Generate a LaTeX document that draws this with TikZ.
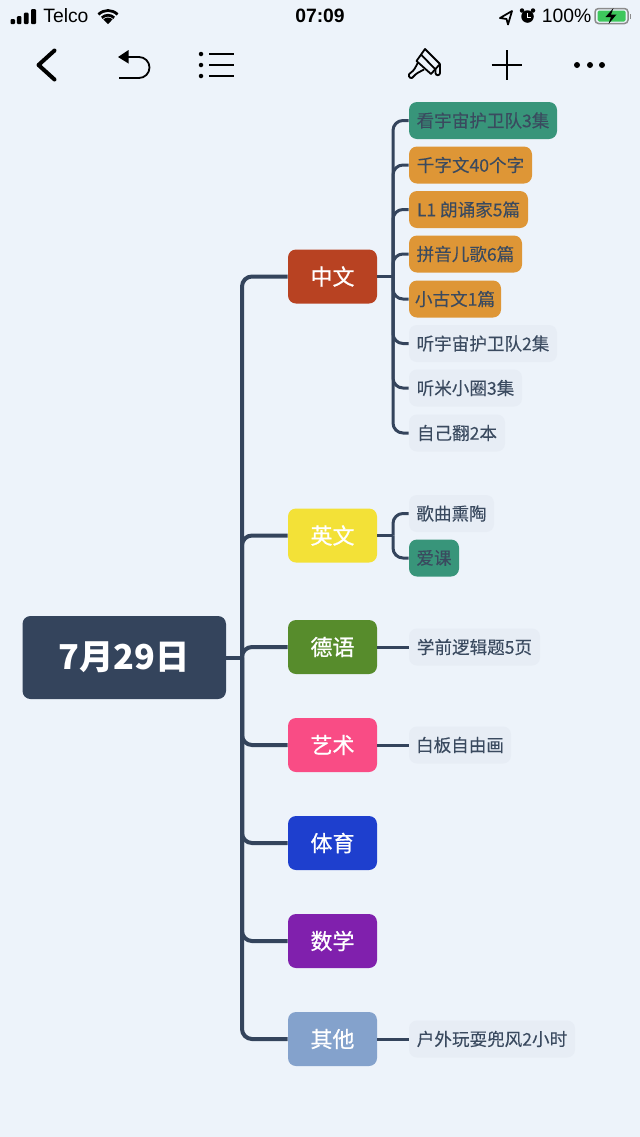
\documentclass[tikz,border=0pt]{standalone}
\usepackage{fontspec}
\usepackage{xcolor}
\setmainfont{Noto Sans CJK SC}
\newfontfamily\statusfont{Liberation Sans}
\newfontfamily\branchfont[FakeBold=0.8]{Noto Sans CJK SC}
\newfontfamily\leaffont[FakeBold=0.12]{Noto Sans CJK SC}
\begin{document}
\begin{tikzpicture}
			\definecolor{PAGE}{RGB}{237, 243, 250}
			\definecolor{NAVY}{RGB}{52, 68, 92}
			\definecolor{INK}{RGB}{58, 74, 95}
			\definecolor{PALE}{RGB}{231, 237, 245}
			\definecolor{TEAL}{RGB}{56, 149, 122}
			\definecolor{AMBER}{RGB}{222, 150, 54}
			\definecolor{RUST}{RGB}{184, 66, 34}
			\definecolor{LEMON}{RGB}{243, 225, 55}
			\definecolor{MOSS}{RGB}{87, 140, 44}
			\definecolor{ROSE}{RGB}{249, 76, 133}
			\definecolor{COBALT}{RGB}{30, 63, 206}
			\definecolor{VIOLET}{RGB}{128, 32, 173}
			\definecolor{STEEL}{RGB}{132, 162, 204}
			\definecolor{CHARGE}{RGB}{62, 199, 92}
			\tikzset{
				rootbox/.style={fill=NAVY, text=white, rounded corners=0.16cm, minimum width=4.07cm, minimum height=1.66cm, inner sep=0pt, font=\fontsize{19.5}{24}\selectfont\bfseries},
				branchbox/.style={text=white, rounded corners=0.16cm, minimum width=1.78cm, minimum height=1.08cm, inner sep=0pt, font=\branchfont\fontsize{12.5}{15}\selectfont},
				leafbox/.style={fill=PALE, text=INK, rounded corners=0.16cm, minimum height=0.74cm, inner sep=0pt, font=\leaffont\fontsize{10}{12}\selectfont},
				trunk/.style={draw=NAVY, line width=0.08cm, rounded corners=0.2cm},
				twig/.style={draw=NAVY, line width=0.06cm, rounded corners=0.2cm},
				icon/.style={draw=black, line width=0.036cm},
				statustext/.style={inner sep=0pt, text=black, font=\statusfont\fontsize{11}{13}\selectfont}
			}
			\fill[PAGE] (0.000, 0.000) rectangle (12.800, -22.740);
			\useasboundingbox (0.000, 0.000) rectangle (12.800, -22.740);
			% status bar
			\node[statustext, anchor=west] (telco) at ( 0.860, -0.320) {Telco};
			\node[statustext, font=\statusfont\bfseries\fontsize{11}{13}\selectfont] (clock) at ( 6.400, -0.320) {07:09};
			\node[statustext] (charge) at ( 11.330, -0.320) {100\%};
			\fill[black, rounded corners=0.02cm] (0.210, -0.480) rectangle (0.300, -0.380);
			\fill[black, rounded corners=0.02cm] (0.340, -0.480) rectangle (0.430, -0.320);
			\fill[black, rounded corners=0.02cm] (0.480, -0.480) rectangle (0.570, -0.250);
			\fill[black, rounded corners=0.02cm] (0.620, -0.480) rectangle (0.720, -0.180);
			\fill[black] (2.160, -0.480) -- (2.068, -0.388) arc (135:45:0.130) -- cycle;
			\draw[black, line width=0.055cm] (2.036, -0.356) arc (135:45:0.175);
			\draw[black, line width=0.055cm] (1.969, -0.289) arc (135:45:0.270);
			\draw[black, line width=0.035cm, line join=round] (10.240, -0.220) -- (10.000, -0.360) -- (10.130, -0.380) -- (10.160, -0.490) -- cycle;
			\fill[black] (10.550, -0.330) circle (0.125);
			\draw[white, line width=0.02cm] (10.550, -0.250) -- (10.550, -0.340) -- (10.620, -0.340);
			\fill[black] (10.440, -0.210) circle (0.045);
			\fill[black] (10.660, -0.210) circle (0.045);
			\draw[black!45, line width=0.03cm, rounded corners=0.07cm] (11.900, -0.170) rectangle (12.560, -0.470);
			\fill[CHARGE, rounded corners=0.03cm] (11.950, -0.210) rectangle (12.510, -0.430);
			\fill[black!45] (12.590, -0.270) rectangle (12.620, -0.370);
			\fill[black] (12.270, -0.160) -- (12.110, -0.340) -- (12.220, -0.340) -- (12.170, -0.480) -- (12.330, -0.290) -- (12.220, -0.290) -- cycle;
			% toolbar
			\draw[black, line width=0.08cm, line cap=round, line join=round] (1.090, -1.010) -- (0.770, -1.300) -- (1.090, -1.590);
			\fill[black] (2.360, -1.140) -- (2.570, -1.000) -- (2.570, -1.270) -- cycle;
			\draw[icon] (2.500, -1.140) -- (2.780, -1.140) arc (90:-90:0.210) -- (2.380, -1.560);
			\fill[black] (4.020, -1.080) circle (0.045);
			\fill[black] (4.020, -1.300) circle (0.045);
			\fill[black] (4.020, -1.520) circle (0.045);
			\draw[icon] (4.180, -1.080) -- (4.670, -1.080);
			\draw[icon] (4.180, -1.300) -- (4.670, -1.300);
			\draw[icon] (4.180, -1.520) -- (4.670, -1.520);
			\draw[icon, line join=round] (8.500, -0.980) -- (8.800, -1.280) -- (8.620, -1.480) -- (8.330, -1.220) -- cycle;
			\draw[icon] (8.420, -1.090) -- (8.700, -1.380);
			\draw[icon, line join=round] (8.800, -1.280) -- (8.800, -1.460) arc (0:-180:0.045) -- (8.710, -1.380);
			\draw[icon, line join=round, rounded corners=0.03cm] (8.360, -1.250) -- (8.280, -1.400) -- (8.160, -1.500) -- (8.220, -1.580) -- (8.330, -1.470) -- (8.480, -1.390);
			\draw[icon] (9.830, -1.300) -- (10.440, -1.300);
			\draw[icon] (10.135, -1.000) -- (10.135, -1.600);
			\fill[black] (11.540, -1.300) circle (0.060);
			\fill[black] (11.800, -1.300) circle (0.060);
			\fill[black] (12.040, -1.300) circle (0.060);
			% map
			\coordinate (rootjoin) at ( 4.840, -13.150);
			\coordinate (wenjoin) at ( 7.860, -5.530);
			\coordinate (yingjoin) at ( 7.860, -10.710);
			\node[rootbox] (root) at ( 2.485, -13.150) {7月29日};
			\node[branchbox, fill=RUST] (zhongwen) at ( 6.650, -5.530) {中文};
			\node[branchbox, fill=LEMON] (yingwen) at ( 6.650, -10.710) {英文};
			\node[branchbox, fill=MOSS] (deyu) at ( 6.650, -12.940) {德语};
			\node[branchbox, fill=ROSE] (yishu) at ( 6.650, -14.900) {艺术};
			\node[branchbox, fill=COBALT] (tiyu) at ( 6.650, -16.860) {体育};
			\node[branchbox, fill=VIOLET] (shuxue) at ( 6.650, -18.820) {数学};
			\node[branchbox, fill=STEEL] (qita) at ( 6.650, -20.780) {其他};
			\node[leafbox, fill=TEAL, minimum width=2.960cm] (kanyuzhou) at ( 9.660, -2.410) {看宇宙护卫队3集};
			\node[leafbox, fill=AMBER, minimum width=2.460cm] (qianziwen) at ( 9.410, -3.300) {千字文40个字};
			\node[leafbox, fill=AMBER, minimum width=2.380cm] (langsong) at ( 9.370, -4.190) {L1 朗诵家5篇};
			\node[leafbox, fill=AMBER, minimum width=2.260cm] (pinyin) at ( 9.310, -5.080) {拼音儿歌6篇};
			\node[leafbox, fill=AMBER, minimum width=1.840cm] (guwen) at ( 9.100, -5.980) {小古文1篇};
			\node[leafbox, minimum width=2.960cm] (tingyuzhou) at ( 9.660, -6.870) {听宇宙护卫队2集};
			\node[leafbox, minimum width=2.260cm] (tingmi) at ( 9.310, -7.760) {听米小圈3集};
			\node[leafbox, minimum width=1.920cm] (fanshu) at ( 9.140, -8.660) {自己翻2本};
			\node[leafbox, minimum width=1.700cm] (gequ) at ( 9.030, -10.270) {歌曲熏陶};
			\node[leafbox, fill=TEAL, minimum width=1.000cm] (aike) at ( 8.680, -11.160) {爱课};
			\node[leafbox, minimum width=2.620cm] (luoji) at ( 9.490, -12.940) {学前逻辑题5页};
			\node[leafbox, minimum width=2.040cm] (baiban) at ( 9.200, -14.900) {白板自由画};
			\node[leafbox, minimum width=3.320cm] (huwai) at ( 9.840, -20.780) {户外玩耍兜风2小时};
			\draw[trunk] (root) to (rootjoin);
			\draw[trunk] (rootjoin) |- (zhongwen);
			\draw[trunk] (rootjoin) |- (yingwen);
			\draw[trunk] (rootjoin) |- (deyu);
			\draw[trunk] (rootjoin) |- (yishu);
			\draw[trunk] (rootjoin) |- (tiyu);
			\draw[trunk] (rootjoin) |- (shuxue);
			\draw[trunk] (rootjoin) |- (qita);
			\draw[twig] (zhongwen) to (wenjoin);
			\draw[twig] (wenjoin) |- (kanyuzhou);
			\draw[twig] (wenjoin) |- (qianziwen);
			\draw[twig] (wenjoin) |- (langsong);
			\draw[twig] (wenjoin) |- (pinyin);
			\draw[twig] (wenjoin) |- (guwen);
			\draw[twig] (wenjoin) |- (tingyuzhou);
			\draw[twig] (wenjoin) |- (tingmi);
			\draw[twig] (wenjoin) |- (fanshu);
			\draw[twig] (yingwen) to (yingjoin);
			\draw[twig] (yingjoin) |- (gequ);
			\draw[twig] (yingjoin) |- (aike);
			\draw[twig] (deyu) to (luoji);
			\draw[twig] (yishu) to (baiban);
			\draw[twig] (qita) to (huwai);
		\end{tikzpicture}
\end{document}
